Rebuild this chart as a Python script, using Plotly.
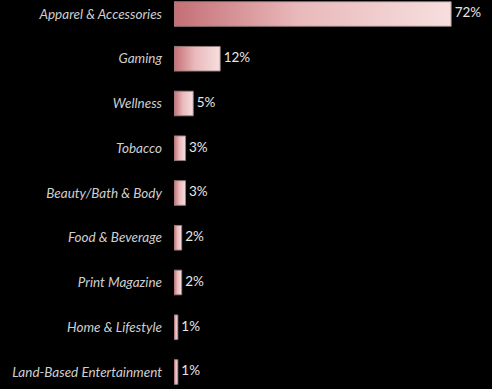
import plotly.graph_objects as go

categories = ["Apparel & Accessories", "Gaming", "Wellness", "Tobacco",
              "Beauty/Bath & Body", "Food & Beverage", "Print Magazine",
              "Home & Lifestyle", "Land-Based Entertainment"]
values = [72, 12, 5, 3, 3, 2, 2, 1, 1]
labels = ["72%", "12%", "5%", "3%", "3%", "2%", "2%", "1%", "1%"]

HALF = 0.275
fig = go.Figure()
for i, v in enumerate(values):
    fig.add_trace(go.Scatter(
        x=[0, v, v, 0, 0],
        y=[i - HALF, i - HALF, i + HALF, i + HALF, i - HALF],
        mode="lines",
        fill="toself",
        fillgradient=dict(type="horizontal",
                          colorscale=[[0, "#c46f75"], [0.45, "#e9b9bb"], [1, "#f7dfdf"]]),
        line=dict(color="rgba(150,125,125,0.9)", width=1),
        hoverinfo="skip",
        showlegend=False,
    ))

fig.add_trace(go.Scatter(
    x=values, y=list(range(len(values))),
    mode="text", text=labels, textposition="middle right",
    texttemplate=" %{text}",
    textfont=dict(color="#e6e6e6", size=13.5, family="Lato"),
    showlegend=False, hoverinfo="skip",
))

fig.update_layout(
    width=492, height=389,
    margin=dict(l=174, r=0, t=0, b=0),
    paper_bgcolor="#000000", plot_bgcolor="#000000",
    xaxis=dict(range=[0, 82.6], visible=False, fixedrange=True),
    yaxis=dict(range=[8.38, -0.313], tickvals=list(range(len(categories))),
               ticktext=categories, showgrid=False, zeroline=False,
               showline=False, ticks="", ticklabelstandoff=11,
               tickfont=dict(color="#cfcfcf", size=13.5, family="Lato", style="italic")),
)

fig.write_html("out.html")
